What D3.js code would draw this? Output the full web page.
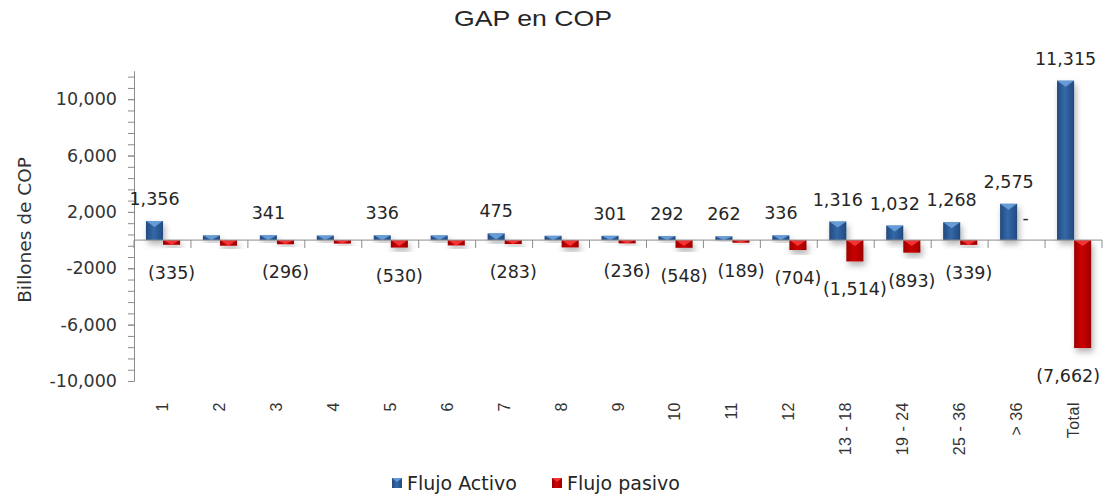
<!DOCTYPE html>
<html>
<head>
<meta charset="utf-8">
<script src="https://cdn.jsdelivr.net/npm/d3@7"></script>
<style>
  body { margin: 0; background: #fff; }
  svg { display: block; }
</style>
</head>
<body>
<svg id="chart" width="1109" height="501"></svg>
<script>
// Maturity buckets (months) and cash flows in billions of COP
const categories = ["1", "2", "3", "4", "5", "6", "7", "8", "9", "10", "11", "12",
                    "13 - 18", "19 - 24", "25 - 36", "> 36", "Total"];
const flujoActivo = [1356, 330, 341, 320, 336, 330, 475, 300, 301, 292, 262, 336,
                     1316, 1032, 1268, 2575, 11315];
const flujoPasivo = [-335, -400, -296, -250, -530, -380, -283, -520, -236, -548, -189, -704,
                     -1514, -893, -339, 0, -7662];
// buckets whose value labels are not shown
const unlabeledCategories = ["2", "4", "6", "8"];
const seriesNames = ["Flujo Activo", "Flujo pasivo"];
const yTickValues = [-10000, -6000, -2000, 2000, 6000, 10000];
const yTickLabels = ["-10,000", "-6,000", "-2000", "2,000", "6,000", "10,000"];
const titleText = "GAP en COP";
const yAxisTitle = "Billones de COP";

const svg = d3.select("#chart");
const labelFont = "'DejaVu Sans', sans-serif";
const catFont = "'Liberation Sans', Arial, sans-serif";

const x = d3.scaleBand().domain(categories).range([134, 1102]);
const y = d3.scaleLinear().domain([-10000, 12000]).range([381, 71]);
const bw = x.bandwidth();
const barW = bw * 0.3;
const y0 = y(0);

// ---------- defs: gradients, shadow ----------
const defs = svg.append("defs");
function hGrad(id, edge, mid) {
  const g = defs.append("linearGradient").attr("id", id)
    .attr("x1", "0%").attr("x2", "100%").attr("y1", "0%").attr("y2", "0%");
  g.append("stop").attr("offset", "0%").attr("stop-color", edge);
  g.append("stop").attr("offset", "45%").attr("stop-color", mid);
  g.append("stop").attr("offset", "100%").attr("stop-color", edge);
}
hGrad("gradBlue", "#234a80", "#3468a8");
hGrad("gradRed", "#9c0000", "#cc0505");
const shadow = defs.append("filter").attr("id", "barShadow")
  .attr("x", "-50%").attr("y", "-50%").attr("width", "200%").attr("height", "200%");
shadow.append("feDropShadow").attr("dx", 2).attr("dy", 4)
  .attr("stdDeviation", 3).attr("flood-color", "#000").attr("flood-opacity", 0.3);

// ---------- title ----------
svg.append("text")
  .attr("x", 533).attr("y", 26)
  .attr("text-anchor", "middle")
  .attr("font-family", catFont).attr("font-size", 22)
  .attr("fill", "#262626")
  .attr("textLength", 158).attr("lengthAdjust", "spacingAndGlyphs")
  .text(titleText);

// ---------- y axis ----------
const axisColor = "#8c8c8c";
const minorAxis = svg.append("g").attr("transform", "translate(134,0)")
  .call(d3.axisLeft(y).tickValues(d3.range(-10000, 12001, 800)).tickSize(6).tickSizeOuter(0).tickFormat(""));
minorAxis.selectAll("line").attr("stroke", axisColor);
minorAxis.select(".domain").attr("stroke", axisColor);

const yAxis = svg.append("g").attr("transform", "translate(134,0)")
  .call(d3.axisLeft(y).tickValues(yTickValues).tickSize(6).tickSizeOuter(0).tickPadding(11)
    .tickFormat((d, i) => yTickLabels[i]));
yAxis.select(".domain").attr("stroke", axisColor);
yAxis.selectAll("line").attr("stroke", axisColor);
yAxis.selectAll("text")
  .attr("font-family", labelFont).attr("font-size", 17.5).attr("fill", "#333");

svg.append("text")
  .attr("transform", `translate(24,${(y(-10000) + y(12000)) / 2 + 4}) rotate(-90)`)
  .attr("text-anchor", "middle").attr("dominant-baseline", "central")
  .attr("font-family", labelFont).attr("font-size", 18.5).attr("fill", "#333")
  .text(yAxisTitle);

// ---------- bars ----------
const rows = categories.map((c, i) => ({ cat: c, act: flujoActivo[i], pas: flujoPasivo[i] }));

function drawBars(cls, key, offset, fill, bevel) {
  const g = svg.append("g").attr("class", cls);
  const bars = g.selectAll("g").data(rows).join("g").attr("filter", "url(#barShadow)");
  bars.append("rect")
    .attr("x", d => x(d.cat) + offset)
    .attr("y", d => Math.min(y(d[key]), y0))
    .attr("width", barW)
    .attr("height", d => Math.abs(y(d[key]) - y0))
    .attr("fill", fill);
  // bevel highlight at the end of the bar attached to the zero line / top
  bars.append("path")
    .attr("d", d => {
      const h = Math.abs(y(d[key]) - y0);
      if (h <= 0) return "";
      const top = Math.min(y(d[key]), y0);
      const depth = Math.min(6, h);
      const bx = x(d.cat) + offset;
      return `M${bx},${top}L${bx + barW},${top}L${bx + barW / 2},${top + depth}Z`;
    })
    .attr("fill", bevel).attr("opacity", 0.85);
}
drawBars("activo", "act", bw * 0.21, "url(#gradBlue)", "#6fa6e0");
drawBars("pasivo", "pas", bw * 0.21 + barW, "url(#gradRed)", "#ff3b3b");

// ---------- x axis ----------
const xAxis = svg.append("g");
xAxis.append("line")
  .attr("x1", x.range()[0]).attr("x2", x.range()[1])
  .attr("y1", y0).attr("y2", y0)
  .attr("stroke", axisColor);
const bounds = categories.map(c => x(c)).concat([x.range()[1]]);
xAxis.selectAll("line.tick").data(bounds).join("line")
  .attr("class", "tick")
  .attr("x1", d => d).attr("x2", d => d)
  .attr("y1", y0).attr("y2", y0 + 8)
  .attr("stroke", axisColor);

svg.append("g").selectAll("text").data(categories).join("text")
  .attr("transform", d => `translate(${x(d) + bw / 2},402) rotate(-90)`)
  .attr("text-anchor", "end").attr("dominant-baseline", "central")
  .attr("font-family", catFont).attr("font-size", 16).attr("fill", "#333")
  .attr("letter-spacing", 0.5)
  .text(d => d);

// ---------- value labels (accounting style) ----------
const fmt = d3.format(",");
function accounting(v) {
  if (v === 0) return "-";
  return v < 0 ? `(${fmt(-v)})` : fmt(v);
}
function drawLabels(key, offset) {
  const lab = rows.filter(d => !unlabeledCategories.includes(d.cat));
  const t = svg.append("g").selectAll("text").data(lab).join("text")
    .attr("x", d => x(d.cat) + offset + barW / 2)
    .attr("y", d => d[key] >= 0 ? y(d[key]) - 22 : y(d[key]) + 28)
    .attr("text-anchor", "middle").attr("dominant-baseline", "central")
    .attr("font-family", labelFont).attr("font-size", 17.5).attr("fill", "#262626")
    .text(d => accounting(d[key]));
  // keep labels inside the drawing area on the right
  t.each(function () {
    const bb = this.getBBox();
    const over = bb.x + bb.width - 1100;
    if (over > 0) d3.select(this).attr("x", +d3.select(this).attr("x") - over);
  });
}
drawLabels("act", bw * 0.21);
drawLabels("pas", bw * 0.21 + barW);

// ---------- legend ----------
const legendX = [392, 552];
const legendFill = ["url(#gradBlue)", "url(#gradRed)"];
const legendBevel = ["#6fa6e0", "#ff3b3b"];
const lg = svg.append("g").selectAll("g").data(seriesNames).join("g")
  .attr("transform", (d, i) => `translate(${legendX[i]},478)`);
lg.append("rect").attr("width", 10).attr("height", 10).attr("fill", (d, i) => legendFill[i]);
lg.append("path").attr("d", "M0,0L10,0L5,4Z").attr("fill", (d, i) => legendBevel[i]).attr("opacity", 0.85);
lg.append("text")
  .attr("x", 15).attr("y", 5)
  .attr("dominant-baseline", "central")
  .attr("font-family", labelFont).attr("font-size", 19).attr("fill", "#262626")
  .text(d => d);
</script>
</body>
</html>
